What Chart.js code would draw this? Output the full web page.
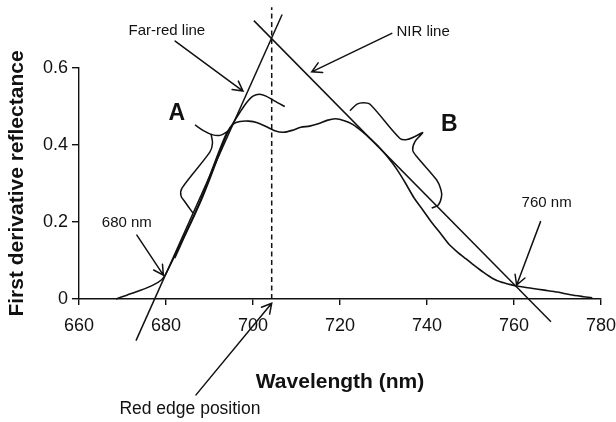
<!DOCTYPE html>
<html>
<head>
<meta charset="utf-8">
<title>Red edge position</title>
<script src="https://cdn.jsdelivr.net/npm/chart.js@4.4.1/dist/chart.umd.min.js"></script>
<style>
  html, body { margin: 0; padding: 0; background: #fff; }
  #red_edge_chart { display: block; }
</style>
</head>
<body>
<canvas id="red_edge_chart" width="616" height="422"></canvas>
<script>
const FONT = "'Liberation Sans', Arial, Helvetica, sans-serif";
const INK = "#111";

// first derivative spectrum (wavelength in nm, value)
const spectrumNm = [668.5, 671, 674, 677, 679, 680, 682, 684, 686, 688, 690, 692, 694, 695.5, 697, 699, 701, 703, 705, 707, 709, 711, 713, 715, 717, 719, 721, 723, 725, 727, 729, 731, 733, 735, 737, 739, 741, 743, 745, 747, 749, 751, 753, 755, 757, 759, 761, 764, 767, 770, 773, 776, 778];
const spectrumValue = [0, 0.01, 0.022, 0.036, 0.05, 0.066, 0.112, 0.16, 0.207, 0.258, 0.318, 0.378, 0.432, 0.455, 0.461, 0.462, 0.458, 0.448, 0.437, 0.433, 0.438, 0.446, 0.449, 0.455, 0.464, 0.468, 0.463, 0.453, 0.436, 0.416, 0.394, 0.368, 0.338, 0.302, 0.263, 0.232, 0.2, 0.172, 0.143, 0.122, 0.104, 0.086, 0.069, 0.054, 0.044, 0.038, 0.033, 0.028, 0.023, 0.018, 0.011, 0.006, 0.003];

// second spectrum, only the far-red part
const spectrumANm = [682, 684, 686, 688, 690, 692, 694, 695.5, 697, 698.5, 700, 701.5, 703, 705, 707.3];
const spectrumAValue = [0.106, 0.156, 0.204, 0.254, 0.31, 0.37, 0.428, 0.458, 0.485, 0.51, 0.527, 0.532, 0.527, 0.514, 0.5];

// fitted straight lines
const farRedNm = [673.1, 706.7];
const farRedValue = [-0.108, 0.739];
const nirNm = [700.2, 768.5];
const nirValue = [0.723, -0.059];

// red edge position (intersection of the two lines)
const redEdgeNm = [704.3, 704.3];
const redEdgeValue = [0, 0.758];

// braces marking the fitted ranges
const braceAArmNm = [686.67, 688.51, 690.57, 692.41, 694.25];
const braceAArmValue = [0.452, 0.438, 0.427, 0.425, 0.436];
const braceANm = [690.34, 690.69, 690.11, 683.68, 683.45, 684.37, 686.21];
const braceAValue = [0.429, 0.405, 0.382, 0.288, 0.268, 0.252, 0.223];
const braceBNm = [722.3, 723.91, 725.29, 726.9, 733.79, 735.4, 737.24, 739.01, 737.24, 736.71, 737.63, 742.23, 743.22, 743.33, 742.6, 741.08];
const braceBValue = [0.489, 0.506, 0.51, 0.506, 0.417, 0.414, 0.422, 0.432, 0.409, 0.387, 0.37, 0.309, 0.283, 0.265, 0.244, 0.236];

// axis ranges
const xMin = 660, xMax = 780, xStep = 20;
const yMin = 0, yMax = 0.6, yStep = 0.2;

// arrows: [tail, tip] in data units
const arrows = [
  [[682.1, 0.670], [697.7, 0.540]],
  [[731.9, 0.690], [713.5, 0.590]],
  [[673.3, 0.166], [679.4, 0.062]],
  [[766.1, 0.201], [760.6, 0.036]],
  [[686.9, -0.249], [704.3, -0.011]]
];

const callouts = [
  { text: "Far-red line", at: [680.2, 0.696], font: "15px " + FONT },
  { text: "NIR line", at: [739.1, 0.694], font: "15px " + FONT },
  { text: "680 nm", at: [671.0, 0.197], font: "15px " + FONT },
  { text: "760 nm", at: [767.5, 0.249], font: "15px " + FONT },
  { text: "Red edge position", at: [685.5, -0.286], font: "17.5px " + FONT },
  { text: "A", at: [682.5, 0.482], font: "bold 23px " + FONT },
  { text: "B", at: [745.1, 0.453], font: "bold 23px " + FONT }
];

const pairs = (xs, ys) => xs.map((v, i) => ({ x: v, y: ys[i] }));

const lineSet = (xs, ys, extra) => Object.assign({
  data: pairs(xs, ys),
  showLine: true,
  borderColor: INK,
  borderWidth: 1.6,
  pointRadius: 0,
  fill: false,
  clip: false,
  tension: 0.25
}, extra || {});

const calloutPlugin = {
  id: "callouts",
  afterDatasetsDraw(chart) {
    const { ctx } = chart;
    const sx = chart.scales.x, sy = chart.scales.y;
    ctx.save();
    ctx.strokeStyle = INK;
    ctx.lineWidth = 1.5;
    ctx.lineCap = "round";

    arrows.forEach(([from, to]) => {
      const x0 = sx.getPixelForValue(from[0]), y0 = sy.getPixelForValue(from[1]);
      const x1 = sx.getPixelForValue(to[0]), y1 = sy.getPixelForValue(to[1]);
      const ang = Math.atan2(y1 - y0, x1 - x0);
      const head = 11, spread = 0.5;
      ctx.beginPath();
      ctx.moveTo(x0, y0);
      ctx.lineTo(x1, y1);
      ctx.moveTo(x1 - head * Math.cos(ang - spread), y1 - head * Math.sin(ang - spread));
      ctx.lineTo(x1, y1);
      ctx.lineTo(x1 - head * Math.cos(ang + spread), y1 - head * Math.sin(ang + spread));
      ctx.stroke();
    });

    ctx.fillStyle = INK;
    ctx.textAlign = "center";
    ctx.textBaseline = "middle";
    callouts.forEach(c => {
      ctx.font = c.font;
      ctx.fillText(c.text, sx.getPixelForValue(c.at[0]), sy.getPixelForValue(c.at[1]));
    });
    ctx.restore();
  }
};

const ctx = document.getElementById("red_edge_chart").getContext("2d");

new Chart(ctx, {
  type: "scatter",
  data: {
    datasets: [
      lineSet(spectrumNm, spectrumValue),
      lineSet(spectrumANm, spectrumAValue),
      lineSet(farRedNm, farRedValue, { borderWidth: 1.5, tension: 0 }),
      lineSet(nirNm, nirValue, { borderWidth: 1.5, tension: 0 }),
      lineSet(redEdgeNm, redEdgeValue, { borderWidth: 1.5, tension: 0, borderDash: [5, 3.5] }),
      lineSet(braceAArmNm, braceAArmValue, { borderWidth: 1.5, tension: 0.35 }),
      lineSet(braceANm, braceAValue, { borderWidth: 1.5, tension: 0.3 }),
      lineSet(braceBNm, braceBValue, { borderWidth: 1.5, tension: 0.3 })
    ]
  },
  options: {
    responsive: false,
    animation: false,
    events: [],
    layout: { padding: { top: 68, right: 15, left: 0, bottom: 0 } },
    plugins: {
      legend: { display: false },
      tooltip: { enabled: false }
    },
    scales: {
      x: {
        type: "linear",
        min: xMin,
        max: xMax,
        afterFit: (scale) => {
          scale.height = 123;
          // let the 780 label hang into the right margin
          scale.paddingRight = 0;
          scale.paddingLeft = 0;
        },
        ticks: { stepSize: xStep, color: INK, padding: 10, font: { family: FONT, size: 18 } },
        grid: { drawOnChartArea: false, drawTicks: true, tickLength: 6, color: INK, lineWidth: 1.4 },
        border: { display: true, color: INK, width: 1.4 },
        title: {
          display: true,
          text: "Wavelength (nm)",
          color: INK,
          padding: { top: 0, bottom: 27 },
          font: { family: FONT, size: 21, weight: "bold" }
        }
      },
      y: {
        type: "linear",
        min: yMin,
        max: yMax,
        afterFit: (scale) => { scale.width = 79; },
        ticks: { stepSize: yStep, color: INK, padding: 4, font: { family: FONT, size: 18 } },
        grid: { drawOnChartArea: false, drawTicks: true, tickLength: 7, color: INK, lineWidth: 1.4 },
        border: { display: true, color: INK, width: 1.4 },
        title: {
          display: true,
          text: "First derivative reflectance",
          color: INK,
          padding: { top: 5, bottom: 0 },
          font: { family: FONT, size: 21, weight: "bold" }
        }
      }
    }
  },
  plugins: [calloutPlugin]
});
</script>
</body>
</html>
